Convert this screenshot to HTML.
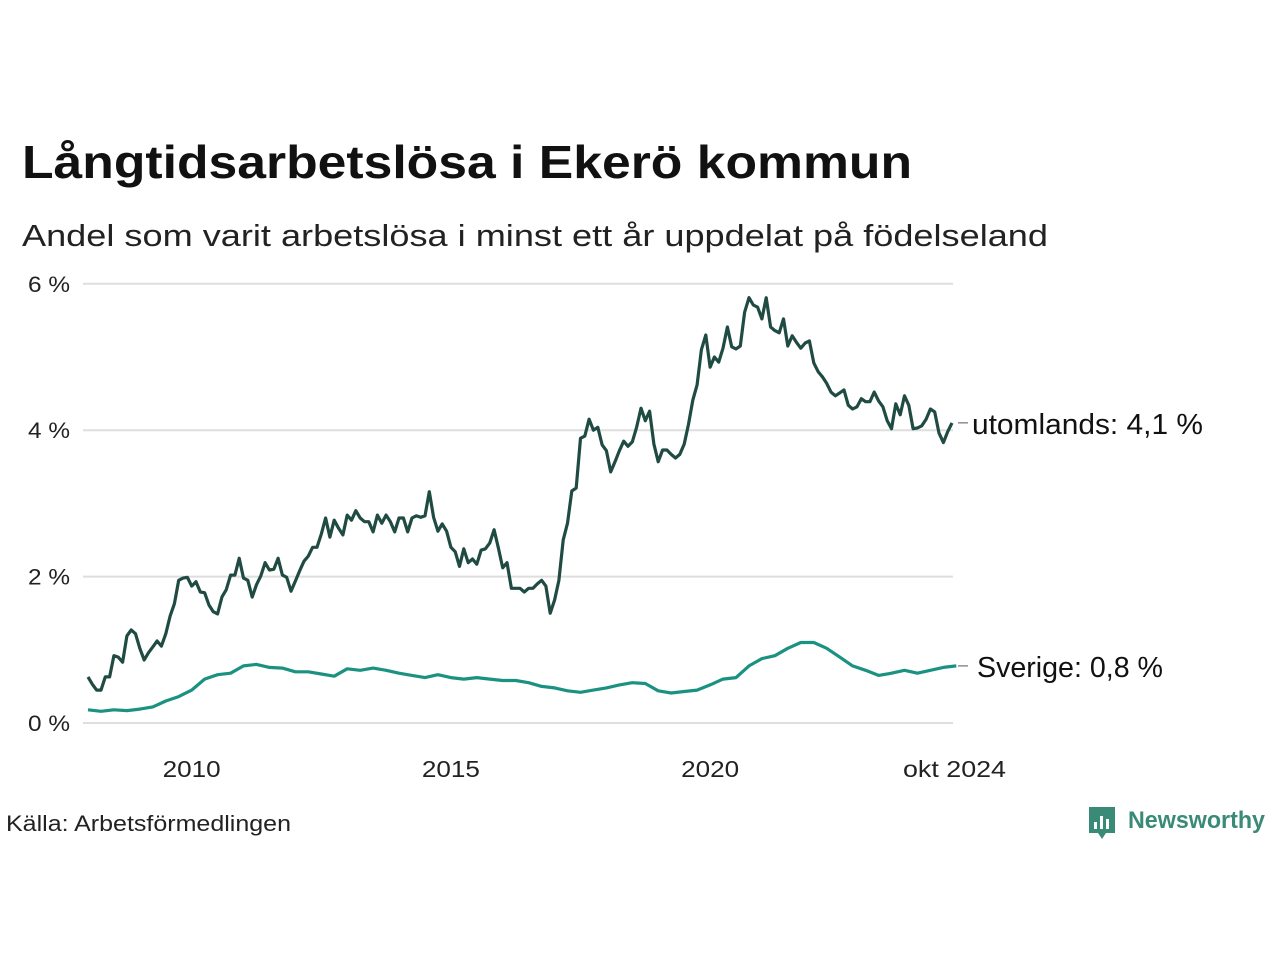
<!DOCTYPE html>
<html><head><meta charset="utf-8"><style>
body{margin:0;background:#fff}
svg{display:block;font-family:"Liberation Sans",sans-serif}
</style></head><body>
<svg width="1280" height="960" viewBox="0 0 1280 960">
<text x="22" y="178" font-size="46" font-weight="bold" fill="#111" textLength="890" lengthAdjust="spacingAndGlyphs">Långtidsarbetslösa i Ekerö kommun</text>
<text x="22" y="246" font-size="31" fill="#222" textLength="1026" lengthAdjust="spacingAndGlyphs">Andel som varit arbetslösa i minst ett år uppdelat på födelseland</text>
<g id="grid"></g>
<g id="xaxis"></g>
<g id="lines"></g>
<text x="6" y="831" font-size="22" fill="#222" textLength="285" lengthAdjust="spacingAndGlyphs">Källa: Arbetsförmedlingen</text>
<g>
<path d="M1089 807h26v26h-9l-4 6-4-6h-9z" fill="#3a8a78"/>
<rect x="1094" y="822" width="3" height="7" fill="#fff"/><rect x="1100" y="816" width="3" height="13" fill="#fff"/><rect x="1106" y="819" width="3" height="10" fill="#fff"/>
<text x="1128" y="828" font-size="24" font-weight="bold" fill="#3a8a78" textLength="137" lengthAdjust="spacingAndGlyphs">Newsworthy</text>
</g>
</svg>
<script>
const utomlands=[0.63,0.53,0.45,0.45,0.63,0.63,0.92,0.90,0.83,1.19,1.27,1.22,1.02,0.86,0.96,1.04,1.12,1.05,1.22,1.46,1.63,1.95,1.98,1.99,1.87,1.93,1.79,1.78,1.61,1.52,1.49,1.72,1.82,2.02,2.02,2.25,1.98,1.95,1.72,1.89,2.01,2.19,2.09,2.10,2.25,2.02,1.99,1.80,1.94,2.08,2.21,2.28,2.40,2.40,2.58,2.80,2.54,2.77,2.66,2.57,2.84,2.77,2.90,2.80,2.75,2.75,2.61,2.84,2.73,2.84,2.75,2.61,2.80,2.80,2.61,2.80,2.83,2.81,2.83,3.16,2.81,2.62,2.72,2.62,2.40,2.34,2.14,2.38,2.19,2.24,2.17,2.36,2.38,2.46,2.64,2.39,2.12,2.19,1.84,1.84,1.84,1.79,1.84,1.84,1.90,1.95,1.87,1.50,1.68,1.95,2.50,2.73,3.17,3.21,3.89,3.92,4.15,4.00,4.04,3.80,3.72,3.43,3.57,3.72,3.85,3.78,3.84,4.04,4.30,4.13,4.26,3.81,3.57,3.73,3.73,3.67,3.62,3.67,3.81,4.08,4.41,4.62,5.10,5.30,4.86,5.00,4.93,5.12,5.41,5.14,5.11,5.15,5.61,5.81,5.71,5.68,5.52,5.81,5.41,5.36,5.33,5.52,5.15,5.29,5.20,5.12,5.19,5.22,4.92,4.80,4.73,4.64,4.52,4.47,4.51,4.55,4.34,4.29,4.32,4.43,4.39,4.39,4.52,4.40,4.32,4.13,4.02,4.36,4.21,4.47,4.34,4.02,4.03,4.06,4.15,4.29,4.25,3.96,3.83,3.98,4.10];
const sverige=[0.18,0.16,0.18,0.17,0.19,0.22,0.30,0.36,0.45,0.60,0.66,0.68,0.78,0.80,0.76,0.75,0.70,0.70,0.67,0.64,0.74,0.72,0.75,0.72,0.68,0.65,0.62,0.66,0.62,0.60,0.62,0.60,0.58,0.58,0.55,0.50,0.48,0.44,0.42,0.45,0.48,0.52,0.55,0.54,0.44,0.41,0.43,0.45,0.52,0.60,0.62,0.78,0.88,0.92,1.02,1.10,1.10,1.02,0.90,0.78,0.72,0.65,0.68,0.72,0.68,0.72,0.76,0.78];
const yTicks=[0,2,4,6];
const yTickLabels=["0 %","2 %","4 %","6 %"];
const xTickYears=[2010,2015,2020];
const endLabel="okt 2024";
const seriesLabels=["utomlands: 4,1 %","Sverige: 0,8 %"];

const NS="http://www.w3.org/2000/svg";
const X0=88,X1=952,Y0=723,PPU=73.2;
const nMonths=utomlands.length;
const startYear=2008;
const xMonth=i=>X0+i*(X1-X0)/(nMonths-1);
const xYear=y=>xMonth((y-startYear)*12);
const yVal=v=>Y0-v*PPU;
function mk(tag,attrs,parent){const e=document.createElementNS(NS,tag);for(const k in attrs)e.setAttribute(k,attrs[k]);parent.appendChild(e);return e;}
const grid=document.getElementById('grid');
yTicks.forEach((t,i)=>{
  const l=mk('line',{x1:83,x2:953,y1:yVal(t),y2:yVal(t),stroke:'#dedede','stroke-width':2},grid);
  
  
  const tx=mk('text',{x:28,y:yVal(t)+8,'font-size':22,fill:'#222',textLength:42,lengthAdjust:'spacingAndGlyphs'},grid);
  tx.textContent=yTickLabels[i];
  
  
});
const xa=document.getElementById('xaxis');
xTickYears.forEach(y=>{
  const tx=mk('text',{x:xYear(y)-29,y:777,'font-size':23,fill:'#222',textLength:58,lengthAdjust:'spacingAndGlyphs'},xa);
  tx.textContent=y;
  
  
});
const te=mk('text',{x:903,y:777,'font-size':23,fill:'#222',textLength:103,lengthAdjust:'spacingAndGlyphs'},xa);
te.textContent=endLabel;



const g=document.getElementById('lines');
function drawLine(vals,step,color,name){
  const d=vals.map((v,i)=>(i?'L':'M')+xMonth(i*step).toFixed(1)+' '+yVal(v).toFixed(1)).join(' ');
  const p=mk('path',{d:d,fill:'none',stroke:color,'stroke-width':3.2,'stroke-linejoin':'round'},g);
  
  
}
drawLine(sverige,3,'#1b9281','line-sverige');
drawLine(utomlands,1,'#204b43','line-utomlands');
const ends=[[utomlands[utomlands.length-1],'label-utomlands',231],[sverige[sverige.length-1],'label-sverige',186]];
ends.forEach(([v,name,w],i)=>{
  const y=yVal(v);
  const l=mk('line',{x1:958,x2:968,y1:y,y2:y,stroke:'#555','stroke-width':1},g);
  
  
  const t=mk('text',{x:i===0?972:977,y:y+11,'font-size':29,fill:'#111',textLength:w,lengthAdjust:'spacingAndGlyphs'},g);
  t.textContent=seriesLabels[i];
  
  
});
</script>
</body></html>
